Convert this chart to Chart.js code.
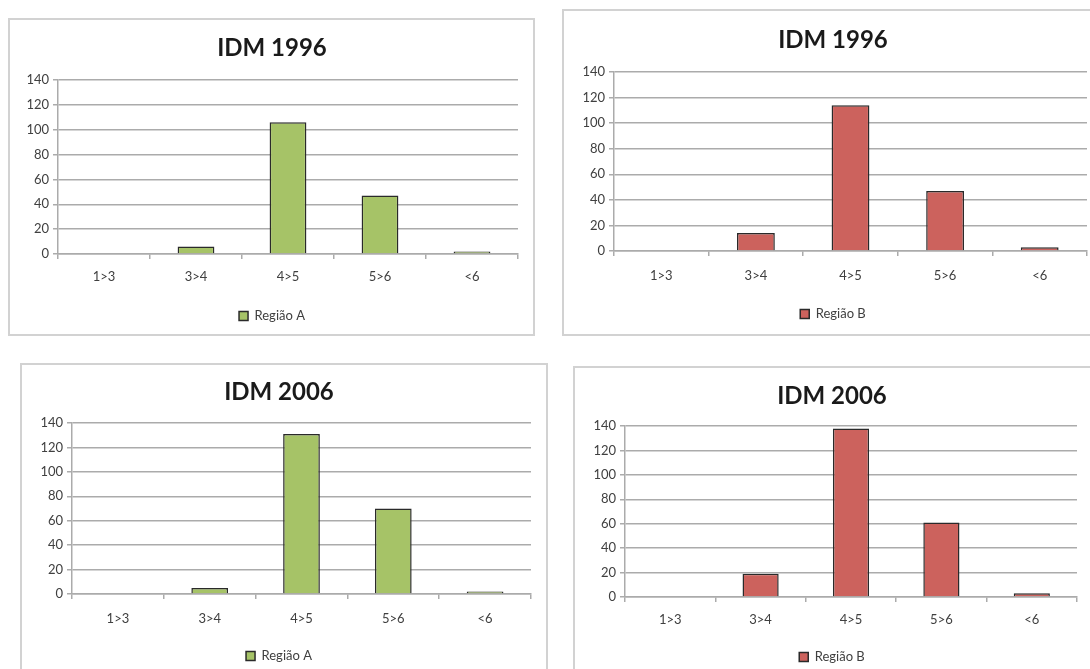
<!DOCTYPE html>
<html>
<head>
<meta charset="utf-8">
<title>IDM 1996 / 2006 - Região A e Região B</title>
<script src="https://cdn.jsdelivr.net/npm/chart.js"></script>
<style>
  html, body { margin: 0; padding: 0; background: #fff; }
  body { width: 1090px; height: 669px; overflow: hidden; position: relative; }
  .painel { position: absolute; border: 2px solid #d2d2d2; box-sizing: border-box; background: #fff; }
  .painel canvas { display: block; }
</style>
</head>
<body>
<div class="painel" id="p1"><canvas id="c1"></canvas></div>
<div class="painel" id="p2"><canvas id="c2"></canvas></div>
<div class="painel" id="p3"><canvas id="c3"></canvas></div>
<div class="painel" id="p4"><canvas id="c4"></canvas></div>

<script>
// Dados
const categorias = ['1>3', '3>4', '4>5', '5>6', '<6'];
const regiaoA1996 = [0, 6, 106, 47, 2];
const regiaoB1996 = [0, 14, 114, 47, 3];
const regiaoA2006 = [0, 5, 131, 70, 2];
const regiaoB2006 = [0, 19, 138, 61, 3];
const eixoYMin = 0;
const eixoYMax = 140;
const eixoYPasso = 20;

const VERDE = '#a6c367';
const VERMELHO = '#cc625d';
const CINZA = '#ababab';
const FONTE = 'Lato, "Open Sans", sans-serif';

// Posição de cada quadro na página (px)
const paineis = [
    { id: 'p1', canvas: 'c1', titulo: 'IDM 1996', rotulo: 'Região A', valores: regiaoA1996, cor: VERDE,
      left: 8, top: 18, w: 527, h: 318, eixoX: 58, direita: 518, tituloX: 272, tituloY: 48, topo: 80, base: 254, rotulosY: 277, legendaY: 316 },
    { id: 'p2', canvas: 'c2', titulo: 'IDM 1996', rotulo: 'Região B', valores: regiaoB1996, cor: VERMELHO,
      left: 562, top: 9, w: 560, h: 327, eixoX: 614, direita: 1087, tituloX: 833, tituloY: 40, topo: 72, base: 251, rotulosY: 276, legendaY: 314 },
    { id: 'p3', canvas: 'c3', titulo: 'IDM 2006', rotulo: 'Região A', valores: regiaoA2006, cor: VERDE,
      left: 20, top: 363, w: 528, h: 320, eixoX: 72, direita: 531, tituloX: 279, tituloY: 392, topo: 423, base: 594, rotulosY: 619, legendaY: 656 },
    { id: 'p4', canvas: 'c4', titulo: 'IDM 2006', rotulo: 'Região B', valores: regiaoB2006, cor: VERMELHO,
      left: 573, top: 366, w: 540, h: 320, eixoX: 625, direita: 1077, tituloX: 832, tituloY: 396, topo: 426, base: 597, rotulosY: 620, legendaY: 657 }
];

function criarGrafico(p) {
    const div = document.getElementById(p.id);
    div.style.left = p.left + 'px';
    div.style.top = p.top + 'px';
    div.style.width = p.w + 'px';
    div.style.height = p.h + 'px';

    const cLeft = p.left + 2, cTop = p.top + 2;
    const cW = p.w - 4, cH = p.h - 4;
    const canvas = document.getElementById(p.canvas);
    canvas.width = cW;
    canvas.height = cH;

    const tamTitulo = 24, alturaTitulo = tamTitulo * 1.2;
    const tPadTop = (p.tituloY - cTop) - alturaTitulo / 2;
    const tPadBottom = (p.topo - cTop) - tPadTop - alturaTitulo;

    // padding horizontal: direita fixa o fim do gráfico, esquerda centra título e legenda
    const padDireita = cLeft + cW - p.direita;
    const padEsquerda = 2 * p.tituloX - 2 * cLeft - cW + padDireita;
    const larguraY = p.eixoX - cLeft - padEsquerda;

    const tamFonte = 13, tick = 5;
    const padRotulos = p.rotulosY - p.base - tick - tamFonte * 0.6;

    const legPad = 8;
    const legTopo = p.legendaY - legPad - tamFonte / 2;
    const alturaX = legTopo - p.base;
    const legAltura = tamFonte + legPad + 10;
    const padBaixo = (cTop + cH) - (legTopo + legAltura);

    new Chart(canvas, {
        type: 'bar',
        data: {
            labels: categorias,
            datasets: [{
                label: p.rotulo,
                data: p.valores,
                backgroundColor: p.cor,
                borderColor: '#2a2a2a',
                borderWidth: 1.5,
                barPercentage: 0.4,
                categoryPercentage: 1.0
            }]
        },
        options: {
            responsive: false,
            animation: false,
            layout: { padding: { left: padEsquerda, right: padDireita, top: 0, bottom: padBaixo } },
            plugins: {
                title: {
                    display: true,
                    text: p.titulo,
                    color: '#1a1a1a',
                    font: { family: FONTE, size: tamTitulo, weight: 'bold', lineHeight: 1.2 },
                    padding: { top: tPadTop, bottom: tPadBottom }
                },
                legend: {
                    position: 'bottom',
                    labels: {
                        boxWidth: 9,
                        boxHeight: 9,
                        padding: legPad,
                        color: '#404040',
                        font: { family: FONTE, size: tamFonte }
                    }
                },
                tooltip: { enabled: false }
            },
            scales: {
                x: {
                    grid: { display: true, drawOnChartArea: false, drawTicks: true, tickLength: tick, color: CINZA, lineWidth: 1.5, offset: true },
                    border: { color: CINZA, width: 1.5 },
                    ticks: { color: '#404040', padding: padRotulos, font: { family: FONTE, size: tamFonte } },
                    afterFit: s => { s.height = alturaX; }
                },
                y: {
                    min: eixoYMin,
                    max: eixoYMax,
                    grid: { color: CINZA, lineWidth: 1.5, tickLength: tick },
                    border: { color: CINZA, width: 1.5 },
                    ticks: { stepSize: eixoYPasso, color: '#404040', padding: 4, font: { family: FONTE, size: tamFonte } },
                    afterFit: s => { s.width = larguraY; }
                }
            }
        }
    });
}

paineis.forEach(criarGrafico);
</script>
</body>
</html>
